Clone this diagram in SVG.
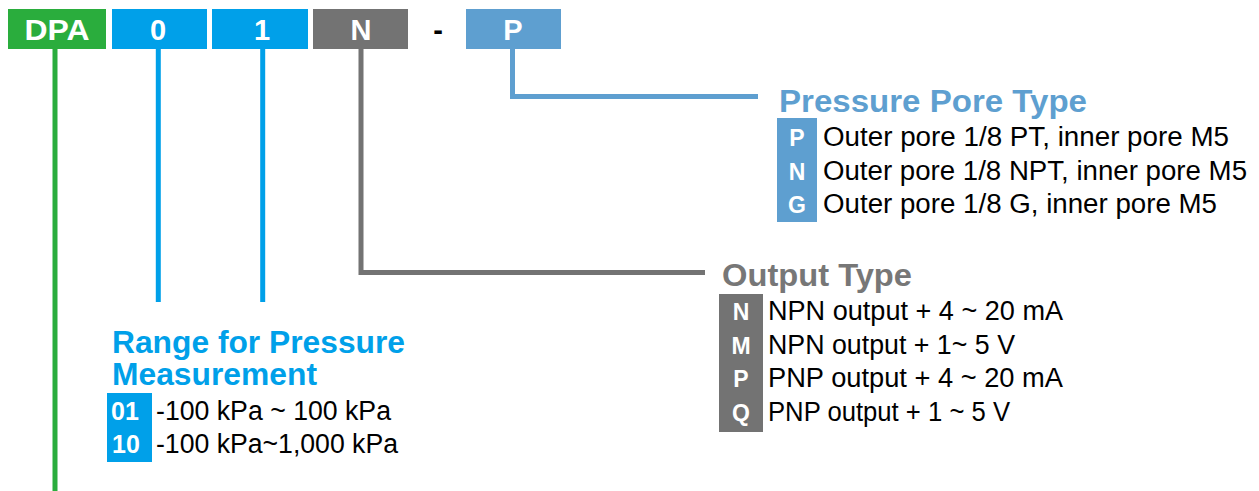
<svg xmlns="http://www.w3.org/2000/svg" width="1259" height="491" viewBox="0 0 1259 491">
<style>
text{font-family:"Liberation Sans",Arial,sans-serif}
.code{font-size:29px;font-weight:bold;fill:#fff;text-anchor:middle}
.title{font-size:31px;font-weight:bold}
.body{font-size:27px;fill:#000}
.badge{font-size:23px;font-weight:bold;fill:#fff;text-anchor:middle}
.ln{fill:none;stroke-width:5}
</style>
<rect width="1259" height="491" fill="#fff"/>
<g id="code-bar">
  <g id="seg-dpa"><rect x="8" y="9" width="98" height="40" fill="#2aad3d"/><text class="code" x="57" y="39.5" textLength="65" lengthAdjust="spacingAndGlyphs">DPA</text></g>
  <g id="seg-0"><rect x="112" y="9" width="95" height="40" fill="#00a0e9"/><text class="code" x="158" y="39.5">0</text></g>
  <g id="seg-1"><rect x="212" y="9" width="96" height="40" fill="#00a0e9"/><text class="code" x="262" y="39.5">1</text></g>
  <g id="seg-n"><rect x="313" y="9" width="95" height="40" fill="#737373"/><text class="code" x="361" y="39.5">N</text></g>
  <g id="seg-dash"><text x="438" y="39.5" style="font-size:29px;font-weight:bold;fill:#000;text-anchor:middle">-</text></g>
  <g id="seg-p"><rect x="466" y="9" width="95" height="40" fill="#5e9fd0"/><text class="code" x="513" y="39.5">P</text></g>
</g>
<g id="connectors">
  <path class="ln" stroke="#2aad3d" d="M55 49V491"/>
  <path class="ln" stroke="#00a0e9" d="M158.3 49V302"/>
  <path class="ln" stroke="#00a0e9" d="M262.7 49V302"/>
  <path class="ln" stroke="#737373" d="M361 49V272.5H705"/>
  <path class="ln" stroke="#5e9fd0" d="M512.5 49V96.5H758"/>
</g>
<g id="pore-type">
  <text class="title" x="779" y="112" fill="#5e9fd0" textLength="308" lengthAdjust="spacingAndGlyphs">Pressure Pore Type</text>
  <rect x="777" y="118" width="40" height="104" fill="#5e9fd0"/>
  <text class="badge" x="797" y="146">P</text>
  <text class="badge" x="797" y="179.5">N</text>
  <text class="badge" x="797" y="213">G</text>
  <text class="body" x="823" y="146" textLength="406" lengthAdjust="spacingAndGlyphs">Outer pore 1/8 PT, inner pore M5</text>
  <text class="body" x="823" y="179.5" textLength="424" lengthAdjust="spacingAndGlyphs">Outer pore 1/8 NPT, inner pore M5</text>
  <text class="body" x="823" y="213" textLength="394" lengthAdjust="spacingAndGlyphs">Outer pore 1/8 G, inner pore M5</text>
</g>
<g id="output-type">
  <text class="title" x="722" y="286" fill="#777777" textLength="190" lengthAdjust="spacingAndGlyphs">Output Type</text>
  <rect x="719" y="294" width="44" height="138" fill="#737373"/>
  <text class="badge" x="741" y="320">N</text>
  <text class="badge" x="741" y="353.5">M</text>
  <text class="badge" x="741" y="387">P</text>
  <text class="badge" x="741" y="420.5">Q</text>
  <text class="body" x="768" y="320" textLength="295" lengthAdjust="spacingAndGlyphs">NPN output + 4 ~ 20 mA</text>
  <text class="body" x="768" y="353.5" textLength="247" lengthAdjust="spacingAndGlyphs">NPN output + 1~ 5 V</text>
  <text class="body" x="768" y="387" textLength="295" lengthAdjust="spacingAndGlyphs">PNP output + 4 ~ 20 mA</text>
  <text class="body" x="768" y="420.5" textLength="242" lengthAdjust="spacingAndGlyphs">PNP output + 1 ~ 5 V</text>
</g>
<g id="range">
  <text class="title" x="112" y="353" fill="#00a0e9" textLength="293" lengthAdjust="spacingAndGlyphs">Range for Pressure</text>
  <text class="title" x="112" y="385" fill="#00a0e9" textLength="205" lengthAdjust="spacingAndGlyphs">Measurement</text>
  <rect x="107" y="393" width="45" height="69" fill="#00a0e9"/>
  <text class="badge" x="125" y="420" style="font-size:25px">01</text>
  <text class="badge" x="126" y="453" style="font-size:25px">10</text>
  <text class="body" x="156" y="420" textLength="235" lengthAdjust="spacingAndGlyphs">-100 kPa ~ 100 kPa</text>
  <text class="body" x="156" y="453" textLength="242" lengthAdjust="spacingAndGlyphs">-100 kPa~1,000 kPa</text>
</g>
</svg>
